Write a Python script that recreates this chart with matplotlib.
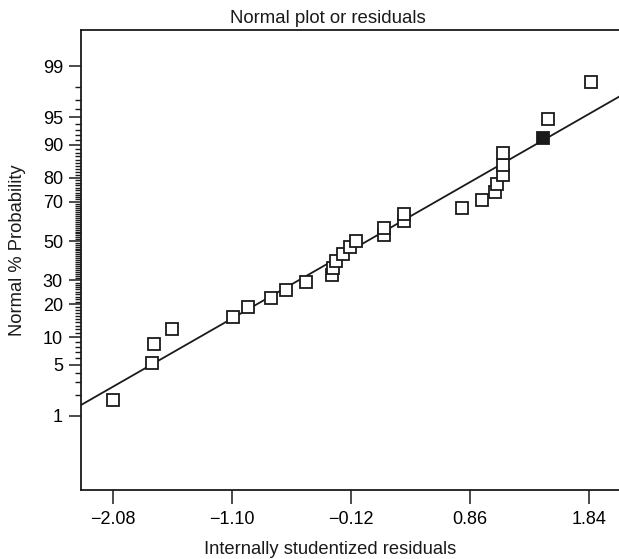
from statistics import NormalDist
import numpy as np
import matplotlib
matplotlib.use("Agg")
import matplotlib.pyplot as plt

plt.rcParams["font.family"] = ["Liberation Sans", "DejaVu Sans"]

# ------------------------------
# Residuals
# ------------------------------
residuals = [-2.082, -1.761, -1.745, -1.596, -1.094, -0.970, -0.781, -0.657,
             -0.493, -0.279, -0.270, -0.246, -0.188, -0.131, -0.081, 0.150,
             0.150, 0.314, 0.314, 0.792, 0.957, 1.064, 1.080, 1.130, 1.130,
             1.130, 1.459, 1.500, 1.855]
probability = [1.7, 5.2, 8.6, 12.1, 15.5, 19.0, 22.4, 25.9, 29.3, 32.8, 36.2,
               39.7, 43.1, 46.6, 50.0, 53.4, 56.9, 60.3, 63.8, 67.2, 70.7,
               74.1, 77.6, 81.0, 84.5, 87.9, 91.4, 94.8, 98.3]
highlight = 26  # filled point

# reference line (in normal-score units)
line_slope = 0.925
line_intercept = -0.011

x_ticks = [-2.08, -1.10, -0.12, 0.86, 1.84]
y_major = [1, 5, 10, 20, 30, 50, 70, 80, 90, 95, 99]
y_minor = [2, 3, 4, 6, 7, 8, 9] + list(range(11, 90)) + [91, 92, 93, 94, 96, 97, 98]

nd = NormalDist()


def score(p):
    return nd.inv_cdf(p / 100.0)


x = np.array(residuals)
z = np.array([score(p) for p in probability])

W, H = 619, 559
fig = plt.figure(figsize=(W / 100, H / 100), dpi=100)
ax = fig.add_axes([81 / W, 69 / H, 1 - 81 / W, 460 / H])

xlim = (-2.346, 2.086)
ax.set_xlim(*xlim)
ax.set_ylim(-3.311, 2.806)

xl = np.array(xlim)
ax.plot(xl, line_intercept + line_slope * xl, color="#1a1a1a", lw=1.3, zorder=2)

mask = np.ones(len(x), dtype=bool)
mask[highlight] = False
ax.plot(x[mask], z[mask], "s", ms=8.5, mfc="white", mec="#1a1a1a", mew=1.3,
        zorder=3)
ax.plot(x[highlight], z[highlight], "s", ms=8.5, mfc="#1a1a1a", mec="#1a1a1a",
        mew=1.3, zorder=3)

ax.set_xticks(x_ticks)
ax.set_xticklabels([f"{t:.2f}".replace("-", "\u2212") for t in x_ticks])
ax.set_yticks([score(p) for p in y_major])
ax.set_yticklabels([str(p) for p in y_major])
ax.set_yticks([score(p) for p in y_minor], minor=True)

ax.tick_params(axis="x", which="major", direction="out", length=10,
               width=1.1, labelsize=13, color="#1a1a1a", pad=5)
ax.tick_params(axis="y", which="major", direction="out", length=9,
               width=1.1, labelsize=13, color="#1a1a1a", pad=4)
ax.tick_params(axis="y", which="minor", direction="out", length=4.5, width=1.0,
               color="#1a1a1a")

ax.spines["right"].set_visible(False)
for s in ["left", "top", "bottom"]:
    ax.spines[s].set_linewidth(1.3)
    ax.spines[s].set_color("#1a1a1a")

fig.text(328 / W, 1 - 23 / H, "Normal plot or residuals", fontsize=13.4,
         ha="center", va="baseline", color="#1a1a1a")
fig.text(330 / W, 1 - 554 / H, "Internally studentized residuals",
         fontsize=13.2, ha="center", va="baseline", color="#1a1a1a")
fig.text(17.5 / W, 1 - 250 / H, "Normal % Probability", fontsize=13.2,
         ha="center", va="center", rotation=90, color="#1a1a1a")

fig.savefig("out.png", dpi=100)
